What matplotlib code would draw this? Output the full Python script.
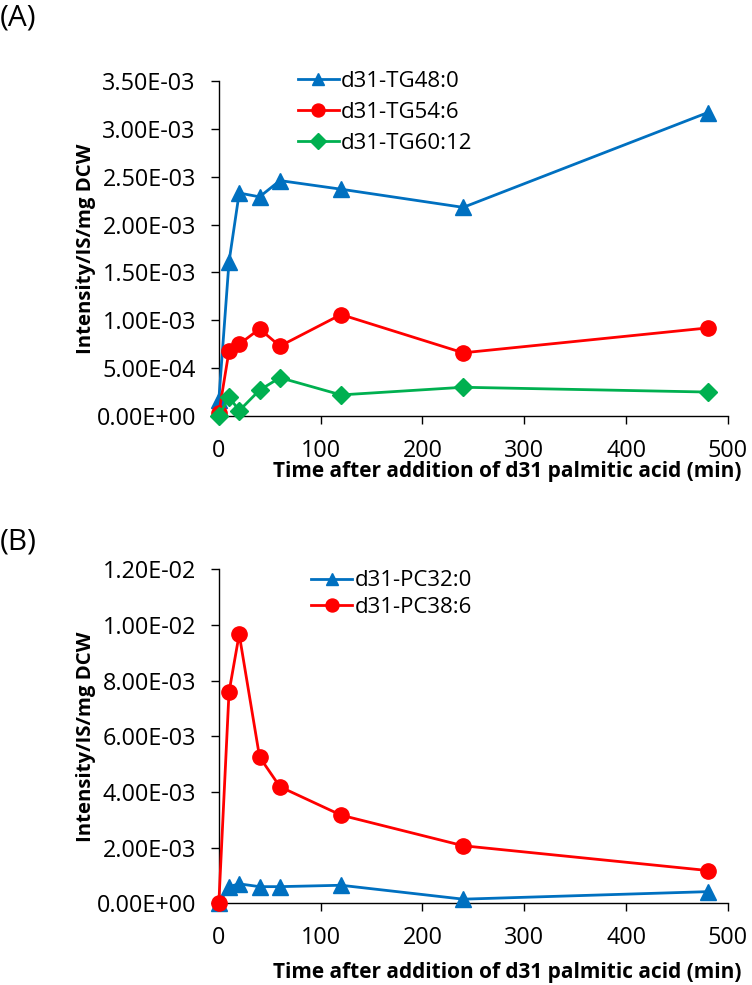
import matplotlib
matplotlib.use("Agg")
import matplotlib.pyplot as plt
from matplotlib.ticker import FuncFormatter

plt.rcParams["font.family"] = ["Open Sans", "DejaVu Sans"]

# time points (min)
time_min = [0, 10, 20, 40, 60, 120, 240, 480]

# panel A: triglycerides
tg48_0 = [0.17e-3, 1.61e-3, 2.33e-3, 2.29e-3, 2.46e-3, 2.37e-3, 2.18e-3, 3.17e-3]
tg54_6 = [0.03e-3, 0.68e-3, 0.75e-3, 0.91e-3, 0.73e-3, 1.06e-3, 0.66e-3, 0.92e-3]
tg60_12 = [0.0, 0.20e-3, 0.055e-3, 0.27e-3, 0.40e-3, 0.22e-3, 0.30e-3, 0.25e-3]

# panel B: phosphatidylcholines
pc32_0 = [0.0, 0.60e-3, 0.70e-3, 0.60e-3, 0.60e-3, 0.65e-3, 0.15e-3, 0.42e-3]
pc38_6 = [0.0, 7.59e-3, 9.67e-3, 5.26e-3, 4.19e-3, 3.17e-3, 2.07e-3, 1.18e-3]

labels_a = ["d31-TG48:0", "d31-TG54:6", "d31-TG60:12"]
labels_b = ["d31-PC32:0", "d31-PC38:6"]

blue = "#0070C0"
red = "#FF0000"
green = "#00B050"

xlabel = "Time after addition of d31 palmitic acid (min)"
ylabel = "Intensity/IS/mg DCW"


def sci(v, pos):
    return "%.2E" % v


def style(ax, ymax, ystep, xlab_y):
    ax.set_xlim(0, 500)
    ax.set_ylim(0, ymax)
    ax.set_xticks(range(0, 501, 100))
    ax.set_yticks([i * ystep for i in range(int(round(ymax / ystep)) + 1)])
    ax.yaxis.set_major_formatter(FuncFormatter(sci))
    for s in ["top", "right"]:
        ax.spines[s].set_visible(False)
    for s in ["left", "bottom"]:
        ax.spines[s].set_linewidth(1.0)
    ax.tick_params(direction="out", length=6, width=1.0, labelsize=16.8, pad=10.5)
    ax.set_xlabel(xlabel, fontsize=15, fontweight="bold")
    ax.xaxis.set_label_coords(1.027, xlab_y)
    ax.xaxis.label.set_ha("right")
    ax.xaxis.label.set_va("center")
    ax.set_ylabel(ylabel, fontsize=14.7, fontweight="bold")
    ax.yaxis.set_label_coords(-0.2417, 0.5)


fig = plt.figure(figsize=(7.52, 9.85), dpi=100)

# (A) triglycerides
ax1 = fig.add_axes([0.291, 0.5777, 0.677, 0.340])
ax1.plot(time_min, tg48_0, color=blue, lw=2, marker="^", ms=11, label=labels_a[0], clip_on=False, zorder=3)
ax1.plot(time_min, tg54_6, color=red, lw=2, marker="o", ms=11, label=labels_a[1], clip_on=False, zorder=3)
ax1.plot(time_min, tg60_12, color=green, lw=2, marker="D", ms=9, label=labels_a[2], clip_on=False, zorder=4)
style(ax1, 3.5e-3, 0.5e-3, -0.167)
ax1.legend(loc="upper left", bbox_to_anchor=(0.155, 1.03), frameon=False, fontsize=16,
           handlelength=1.85, handletextpad=0.1, labelspacing=0.45, markerscale=0.85,
           borderaxespad=0, borderpad=0)

# (B) phosphatidylcholines
ax2 = fig.add_axes([0.291, 0.0829, 0.677, 0.339])
ax2.plot(time_min, pc32_0, color=blue, lw=2, marker="^", ms=11, label=labels_b[0], clip_on=False, zorder=3)
ax2.plot(time_min, pc38_6, color=red, lw=2, marker="o", ms=11, label=labels_b[1], clip_on=False, zorder=4)
style(ax2, 1.2e-2, 2e-3, -0.207)
ax2.legend(loc="upper left", bbox_to_anchor=(0.181, 0.997), frameon=False, fontsize=16,
           handlelength=1.85, handletextpad=0.1, labelspacing=0.25, markerscale=0.85,
           borderaxespad=0, borderpad=0)

fig.text(0.0, 0.982, "(A)", fontsize=21.5, va="center", ha="left")
fig.text(0.0, 0.450, "(B)", fontsize=21.5, va="center", ha="left")

fig.savefig("out.png", dpi=100)
